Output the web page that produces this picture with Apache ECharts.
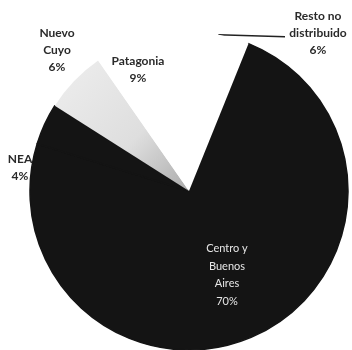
<!DOCTYPE html>
<html><head><meta charset="utf-8">
<script src="https://cdn.jsdelivr.net/npm/echarts@6/dist/echarts.min.js"></script>
<style>html,body{margin:0;padding:0;background:#fff}#c{width:352px;height:350px}</style>
</head><body><div id="c"></div>
<script>
const categories = ['Centro y\nBuenos\nAires', 'NEA', 'Nuevo\nCuyo', 'Patagonia', 'Resto no\ndistribuido'];
const values = [70, 4, 6, 9, 6];
const colors = ['#141414', '#141414', '#dedede', '#ffffff', '#ffffff'];
const labelPos = [[227, 275], [20, 168], [57, 50], [138, 70], [318, 33]];

const cuyoFill = new echarts.graphic.LinearGradient(0, 0, 1, 1, [
  { offset: 0, color: '#eeeeee' },
  { offset: 0.6, color: '#dedede' },
  { offset: 1, color: '#acacac' }
]);

const chart = echarts.init(document.getElementById('c'));
chart.setOption({
  animation: false,
  series: [{
    type: 'pie',
    center: [189, 191],
    radius: 159,
    startAngle: 68,
    clockwise: true,
    avoidLabelOverlap: false,
    data: categories.map((n, i) => ({
      name: n, value: values[i],
      itemStyle: i < 2 ? { color: colors[i], borderColor: colors[i], borderWidth: 1.5 }
               : { color: i === 2 ? cuyoFill : colors[i] },
      label: i === 0 ? { color: '#e6e6e6', fontWeight: 'normal', fontSize: 11, lineHeight: 17.5 } : {},
      labelLine: { show: i === 4 }
    })),
    label: {
      show: true, position: 'outside',
      formatter: '{b}\n{c}%',
      fontFamily: 'Lato', fontSize: 12, fontWeight: 'bold', color: '#2a2a2a',
      lineHeight: 17
    },
    labelLine: { show: false, length: 0, length2: 60, lineStyle: { color: '#222', width: 1.5 } },
    itemStyle: { borderWidth: 0 },
    labelLayout: function (p) {
      const L = labelPos[p.dataIndex];
      const o = { x: L[0], y: L[1], align: 'center', verticalAlign: 'middle' };
      if (p.dataIndex === 4 && p.labelLinePoints) {
        const s = p.labelLinePoints[0];
        const ex = L[0] - 33;
        o.labelLinePoints = [s, [(s[0] + ex) / 2, s[1] + 1], [ex, s[1] + 2]];
      }
      return o;
    }
  }]
});
</script></body></html>
